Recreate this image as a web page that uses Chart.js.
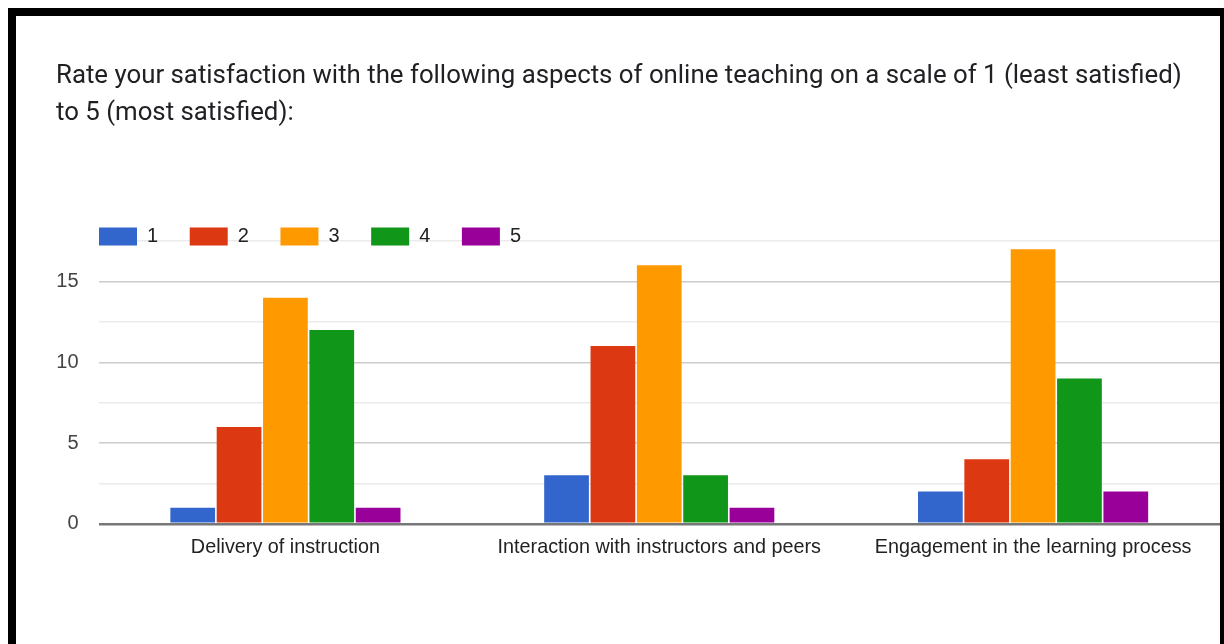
<!DOCTYPE html>
<html>
<head>
<meta charset="utf-8">
<script src="https://cdn.jsdelivr.net/npm/chart.js@4.4.1/dist/chart.umd.min.js"></script>
<style>
  html, body { margin: 0; padding: 0; background: #fff; width: 1224px; height: 644px; overflow: hidden; }
  #frame { position: absolute; left: 8px; top: 8px; width: 1204px; height: 900px; border: 8px solid #000; pointer-events: none; z-index: 2; }
  #wrap { position: absolute; left: 0; top: 0; width: 1224px; height: 644px; z-index: 1; }
</style>
</head>
<body>
<div id="wrap"><canvas id="c" width="1224" height="644"></canvas></div>
<div id="frame"></div>
<script>
const titleLines = [
  "Rate your satisfaction with the following aspects of online teaching on a scale of 1 (least satisfied)",
  "to 5 (most satisfied):"
];
const categories = ["Delivery of instruction", "Interaction with instructors and peers", "Engagement in the learning process"];
const seriesNames = ["1", "2", "3", "4", "5"];
const rating1 = [1, 3, 2];
const rating2 = [6, 11, 4];
const rating3 = [14, 16, 17];
const rating4 = [12, 3, 9];
const rating5 = [1, 1, 2];
const yTickLabels = [0, 5, 10, 15];
const seriesColors = ["#3366cc", "#dc3912", "#ff9900", "#109618", "#990099"];

const seriesValues = [rating1, rating2, rating3, rating4, rating5];

const legendShift = {
  id: 'legendShift',
  afterLayout(chart) {
    const lg = chart.legend;
    if (!lg) return;
    const pad = chart.options.plugins.legend.labels.padding;
    const h = lg.height;
    lg.left = chart.chartArea.left + 0.5 - pad;
    lg.right = chart.chartArea.right;
    lg.top = chart.chartArea.top - pad - 14.5;
    lg.bottom = lg.top + h + 20;
  }
};

new Chart(document.getElementById('c'), {
  type: 'bar',
  data: {
    labels: categories,
    datasets: seriesNames.map((n, i) => ({
      label: n,
      data: seriesValues[i],
      backgroundColor: seriesColors[i],
      borderWidth: 0,
      categoryPercentage: 0.62,
      barPercentage: 0.965
    }))
  },
  options: {
    responsive: false,
    animation: false,
    devicePixelRatio: 1,
    layout: { padding: { left: 56, right: 4, top: 58.5, bottom: 72.4 } },
    plugins: {
      title: {
        display: true,
        text: titleLines,
        align: 'start',
        color: '#202124',
        font: { family: 'Roboto', size: 25.8, weight: 'normal', lineHeight: 1.434 },
        padding: { top: 0, bottom: 47 }
      },
      legend: {
        position: 'top',
        align: 'start',
        labels: {
          boxWidth: 38,
          boxHeight: 18,
          padding: 31.6,
          color: '#222222',
          font: { family: 'Arial', size: 20 }
        }
      },
      tooltip: { enabled: false }
    },
    scales: {
      x: {
        grid: { display: false, drawTicks: false },
        border: { display: false },
        ticks: { color: '#222222', font: { family: 'Arial', size: 19.8 }, padding: 12, maxRotation: 0 }
      },
      y: {
        min: 0,
        max: 17.5,
        afterFit: (s) => { s.width = 42.5; },
        border: { display: false },
        grid: {
          drawTicks: false,
          color: (ctx) => {
            const v = ctx.tick ? ctx.tick.value : 0;
            if (v === 0) return '#777777';
            return (v % 5 === 0) ? '#cccccc' : '#ebebeb';
          },
          lineWidth: (ctx) => {
            const v = ctx.tick ? ctx.tick.value : 0;
            return v === 0 ? 2.5 : 1.5;
          }
        },
        ticks: {
          stepSize: 2.5,
          padding: 20,
          color: '#444444',
          font: { family: 'Arial', size: 20 },
          callback: (v) => yTickLabels.includes(v) ? String(v) : ''
        }
      }
    }
  },
  plugins: [legendShift]
});
</script>
</body>
</html>
